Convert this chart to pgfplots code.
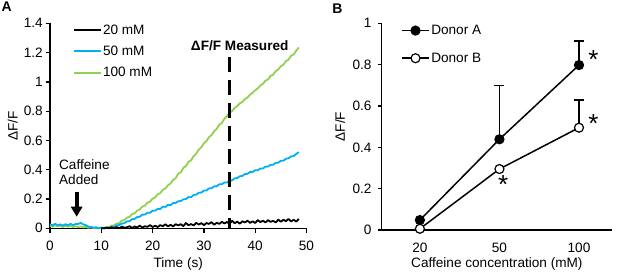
\documentclass[border=0pt]{standalone}
\usepackage{pgfplots}
\pgfplotsset{compat=1.18}
\usepackage{pgfplotstable}
\usepackage{fontspec}
\setmainfont{Liberation Sans}
\usetikzlibrary{arrows.meta}
\definecolor{cgreen}{RGB}{146,208,80}
\definecolor{cblue}{RGB}{0,176,240}

\pgfplotstableread{
t y
0 0.018
0.5 0.011
1 0.021
1.5 0.013
2 0.017
2.5 0.009
3 0.018
3.5 0.011
4 0.016
4.5 0.008
5 0.014
5.5 0.007
6 0.013
6.5 0.006
7 0.010
7.5 0.003
8 0.007
8.5 0.001
9 0.005
9.5 0.000
10 0.004
10.5 0.001
11 0.009
11.5 0.008
12 0.019
12.5 0.020
13 0.033
13.5 0.034
14 0.053
14.5 0.056
15 0.073
15.5 0.078
16 0.098
16.5 0.102
17 0.121
17.5 0.128
18 0.148
18.5 0.155
19 0.175
19.5 0.182
20 0.203
20.5 0.211
21 0.233
21.5 0.241
22 0.263
22.5 0.272
23 0.294
23.5 0.306
24 0.331
24.5 0.342
25 0.373
25.5 0.382
26 0.413
26.5 0.425
27 0.453
27.5 0.465
28 0.493
28.5 0.509
29 0.538
29.5 0.553
30 0.581
30.5 0.595
31 0.623
31.5 0.637
32 0.663
32.5 0.679
33 0.708
33.5 0.719
34 0.748
34.5 0.765
35 0.792
35.5 0.800
36 0.823
36.5 0.835
37 0.853
37.5 0.863
38 0.883
38.5 0.893
39 0.913
39.5 0.925
40 0.943
40.5 0.955
41 0.975
41.5 0.987
42 1.008
42.5 1.017
43 1.041
43.5 1.049
44 1.073
44.5 1.085
45 1.107
45.5 1.117
46 1.143
46.5 1.152
47 1.178
47.5 1.187
48 1.213
48.5 1.235
}\greendata

\pgfplotstableread{
t y
0 0.028
0.5 0.020
1 0.031
1.5 0.021
2 0.027
2.5 0.018
3 0.028
3.5 0.020
4 0.031
4.5 0.022
5 0.029
5.5 0.030
6 0.037
6.5 0.026
7 0.021
7.5 0.011
8 0.010
8.5 0.004
9 0.007
9.5 0.001
10 0.005
10.5 0.000
11 0.004
11.5 0.001
12 0.009
12.5 0.011
13 0.020
13.5 0.023
14 0.032
14.5 0.036
15 0.047
15.5 0.049
16 0.062
16.5 0.064
17 0.077
17.5 0.079
18 0.093
18.5 0.094
19 0.106
19.5 0.106
20 0.121
20.5 0.120
21 0.133
21.5 0.132
22 0.148
22.5 0.146
23 0.161
23.5 0.158
24 0.173
24.5 0.173
25 0.185
25.5 0.186
26 0.198
26.5 0.200
27 0.213
27.5 0.212
28 0.228
28.5 0.230
29 0.243
29.5 0.244
30 0.258
30.5 0.258
31 0.273
31.5 0.273
32 0.287
32.5 0.286
33 0.301
33.5 0.301
34 0.313
34.5 0.313
35 0.325
35.5 0.328
36 0.341
36.5 0.343
37 0.355
37.5 0.358
38 0.371
38.5 0.372
39 0.385
39.5 0.384
40 0.397
40.5 0.396
41 0.409
41.5 0.408
42 0.421
42.5 0.422
43 0.433
43.5 0.434
44 0.447
44.5 0.448
45 0.461
45.5 0.462
46 0.475
46.5 0.478
47 0.491
47.5 0.493
48 0.508
48.5 0.520
}\bluedata

\pgfplotstableread{
t y
10 0.002
10.5 0.000
11 0.004
11.5 0.001
12 0.007
12.5 0.001
13 0.008
13.5 0.001
14 0.011
14.5 0.004
15 0.007
15.5 0.014
16 0.003
16.5 0.012
17 0.006
17.5 0.018
18 0.005
18.5 0.014
19 0.010
19.5 0.022
20 0.009
20.5 0.017
21 0.009
21.5 0.022
22 0.014
22.5 0.028
23 0.013
23.5 0.024
24 0.013
24.5 0.028
25 0.020
25.5 0.028
26 0.015
26.5 0.036
27 0.021
27.5 0.029
28 0.020
28.5 0.037
29 0.026
29.5 0.035
30 0.022
30.5 0.036
31 0.030
31.5 0.042
32 0.024
32.5 0.038
33 0.030
33.5 0.044
34 0.033
34.5 0.043
35 0.031
35.5 0.051
36 0.035
36.5 0.045
37 0.032
37.5 0.048
38 0.040
38.5 0.052
39 0.037
39.5 0.048
40 0.036
40.5 0.056
41 0.042
41.5 0.052
42 0.040
42.5 0.056
43 0.044
43.5 0.051
44 0.040
44.5 0.059
45 0.045
45.5 0.058
46 0.049
46.5 0.064
47 0.047
47.5 0.058
48 0.046
48.5 0.064
}\blackdata

\pgfplotsset{
  every axis/.append style={font=\fontsize{13.6}{16}\selectfont},
  /pgf/number format/assume math mode=true,
}

\begin{document}
\begin{tikzpicture}
\path[use as bounding box] (0,0) rectangle (617pt,274pt);

\node[font=\bfseries\fontsize{14}{16}\selectfont, inner sep=0pt] at (6.7pt,267.3pt) {A};
\node[font=\bfseries\fontsize{14}{16}\selectfont, inner sep=0pt] at (337.5pt,265.7pt) {B};

% ---------------- Panel A ----------------
\begin{axis}[
  at={(50pt,45.7pt)}, anchor=south west,
  scale only axis, width=256.5pt, height=205pt,
  xmin=0, xmax=50, ymin=0, ymax=1.4,
  axis lines*=left,
  axis line style={line width=1.3pt, black},
  tick align=outside, major tick length=4.5pt,
  tick style={line width=1.3pt, black},
  xtick={0,10,20,30,40,50},
  ytick={0,0.2,0.4,0.6,0.8,1,1.2,1.4},
  yticklabel style={anchor=east, inner sep=0pt, xshift=-2.5pt},
  xticklabel style={anchor=base, inner sep=0pt, yshift=-18pt},
  clip=false,
  reverse legend,
  legend style={at={(axis description cs:0.0897,0.9946)}, anchor=north west,
    draw=none, fill=none, inner sep=0pt, row sep=10.26pt,
    font=\fontsize{13.6}{16}\selectfont,
    nodes={inner ysep=0pt, inner xsep=1pt},
    cells={anchor=west}},
  legend image code/.code={\draw[#1] (0pt,0pt) -- (27pt,0pt);},
]
\addplot[cgreen, line width=1.8pt, line join=round] table[x=t,y=y] {\greendata};
\addlegendentry{100 mM}
\addplot[cblue, line width=1.8pt, line join=round] table[x=t,y=y] {\bluedata};
\addlegendentry{50 mM}
\addplot[black, line width=1.8pt, line join=round] table[x=t,y=y] {\blackdata};
\addlegendentry{20 mM}

\addplot[black, line width=3.5pt, dash pattern=on 15pt off 8pt, forget plot] coordinates {(35,1.171) (35,0)};

\node[font=\bfseries\fontsize{13.6}{16}\selectfont, anchor=base, inner sep=0pt] at (axis cs:36.98,1.217) {ΔF/F Measured};
\node[align=left, anchor=north west, inner sep=0pt, font=\fontsize{13.6}{15.3}\selectfont] at (axis cs:1.75,0.473) {Caffeine\\Added};
\draw[black, line width=4pt, -{Triangle[width=11pt,length=10pt]}] (axis cs:5.2,0.25) -- (axis cs:5.2,0.079);

\node[anchor=base, inner sep=0pt] at (axis description cs:0.5,-0.191) {Time (s)};
\node[rotate=90, anchor=center, inner sep=0pt] at (axis description cs:-0.145,0.5) {ΔF/F};
\end{axis}

% ---------------- Panel B ----------------
\begin{axis}[
  at={(381.7pt,44pt)}, anchor=south west,
  scale only axis, width=230.3pt, height=206.7pt,
  xmin=-0.48, xmax=2.415, ymin=0, ymax=1,
  axis lines*=left,
  axis line style={line width=1.3pt, black},
  tick align=outside, major tick length=3.5pt,
  tick style={line width=1.3pt, black},
  xtick={0,1,2}, xticklabels={20,50,100},
  x tick style={draw=none},
  ytick={0,0.2,0.4,0.6,0.8,1},
  yticklabel style={anchor=east, inner sep=0pt, xshift=-6.5pt},
  xticklabel style={anchor=base, inner sep=0pt, yshift=-18.8pt},
  clip=false,
  legend style={at={(axis description cs:0.084,0.992)}, anchor=north west,
    draw=none, fill=none, inner sep=0pt, row sep=16.8pt,
    font=\fontsize{13.6}{16}\selectfont,
    nodes={inner ysep=0pt, inner xsep=1.5pt},
    cells={anchor=west}},
  legend image code/.code={\draw[#1,mark repeat=2,mark phase=2] plot coordinates {(0pt,0pt) (13.5pt,0pt) (27pt,0pt)};},
]
\addplot[black, only marks, mark=none, forget plot,
  error bars/.cd, y dir=plus, y explicit,
  error bar style={line width=1.5pt, black},
  error mark options={rotate=90, mark size=5pt, line width=1.5pt, black}]
  coordinates {(1,0.439) +- (0,0.259) (2,0.798) +- (0,0.116) (2,0.495) +- (0,0.134)};
\addplot[black, line width=1.5pt, mark=*, mark size=4.5pt, mark options={fill=black, line width=1.2pt, solid}] coordinates {(0,0.048) (1,0.439) (2,0.798)};
\addlegendentry{Donor A}
\addplot[black, line width=1.5pt, mark=*, mark size=4.5pt, mark options={fill=white, line width=1.2pt, solid}] coordinates {(0,0.006) (1,0.295) (2,0.495)};
\addlegendentry{Donor B}

\node[font=\fontsize{26}{28}\selectfont, anchor=base, inner sep=0pt] at (axis cs:2.18,0.781) {*};
\node[font=\fontsize{26}{28}\selectfont, anchor=base, inner sep=0pt] at (axis cs:2.18,0.471) {*};
\node[font=\fontsize{26}{28}\selectfont, anchor=base, inner sep=0pt] at (axis cs:1.048,0.178) {*};

\node[anchor=base, inner sep=0pt] at (axis description cs:0.5,-0.181) {Caffeine concentration (mM)};
\node[rotate=90, anchor=center, inner sep=0pt] at (axis description cs:-0.181,0.5) {ΔF/F};
\end{axis}
\end{tikzpicture}
\end{document}
